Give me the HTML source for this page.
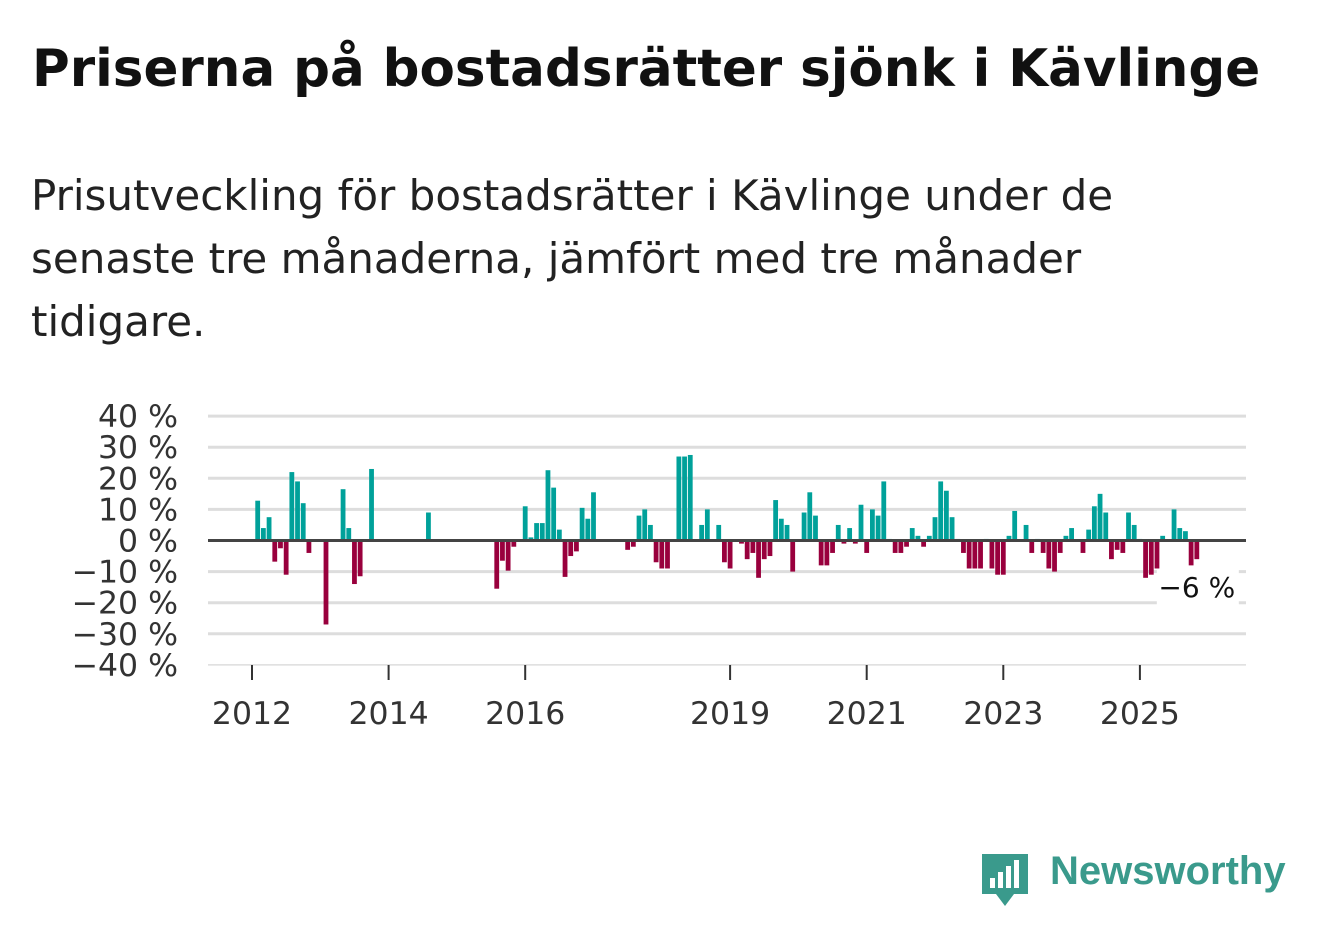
<!DOCTYPE html>
<html><head><meta charset="utf-8"><style>
body{margin:0;width:1322px;height:939px;background:#fff;font-family:"DejaVu Sans","Liberation Sans",sans-serif;overflow:hidden;position:relative}
h1{position:absolute;left:32px;top:39px;margin:0;font-size:51.5px;font-weight:bold;color:#111;white-space:nowrap}
p.sub{position:absolute;left:31px;top:164px;margin:0;font-size:42px;line-height:63px;color:#222;width:1280px;white-space:nowrap}
svg{position:absolute;left:0;top:0}
.logo{position:absolute;left:1050px;top:849px;font-size:40px;color:#3a9a8c;font-weight:bold;font-family:"Liberation Sans",sans-serif}
</style></head><body>
<h1>Priserna på bostadsrätter sjönk i Kävlinge</h1>
<p class="sub">Prisutveckling för bostadsrätter i Kävlinge under de<br>senaste tre månaderna, jämfört med tre månader<br>tidigare.</p>
<svg id="chart" width="1322" height="939"></svg>
<svg width="60" height="70" style="left:978px;top:848px">
<path d="M4 6 h46 v40 h-14 l-9 12 l-9 -12 h-14 z" fill="#3a9a8c"/>
<rect x="12" y="30" width="5" height="10" fill="#fff"/><rect x="20" y="24" width="5" height="16" fill="#fff"/><rect x="28" y="18" width="5" height="22" fill="#fff"/><rect x="36" y="12" width="5" height="28" fill="#fff"/>
</svg>
<div class="logo">Newsworthy</div>
<script>
const months=["2012-02","2012-03","2012-04","2012-05","2012-06","2012-07","2012-08","2012-09","2012-10","2012-11","2013-02","2013-05","2013-06","2013-07","2013-08","2013-10","2014-08","2015-08","2015-09","2015-10","2015-11","2016-01","2016-02","2016-03","2016-04","2016-05","2016-06","2016-07","2016-08","2016-09","2016-10","2016-11","2016-12","2017-01","2017-07","2017-08","2017-09","2017-10","2017-11","2017-12","2018-01","2018-02","2018-04","2018-05","2018-06","2018-08","2018-09","2018-11","2018-12","2019-01","2019-03","2019-04","2019-05","2019-06","2019-07","2019-08","2019-09","2019-10","2019-11","2019-12","2020-02","2020-03","2020-04","2020-05","2020-06","2020-07","2020-08","2020-09","2020-10","2020-11","2020-12","2021-01","2021-02","2021-03","2021-04","2021-05","2021-06","2021-07","2021-08","2021-09","2021-10","2021-11","2021-12","2022-01","2022-02","2022-03","2022-04","2022-05","2022-06","2022-07","2022-08","2022-09","2022-10","2022-11","2022-12","2023-01","2023-02","2023-03","2023-05","2023-06","2023-07","2023-08","2023-09","2023-10","2023-11","2023-12","2024-01","2024-03","2024-04","2024-05","2024-06","2024-07","2024-08","2024-09","2024-10","2024-11","2024-12","2025-01","2025-02","2025-03","2025-04","2025-05","2025-07","2025-08","2025-09","2025-10","2025-11"];
const values=[12.8,4,7.5,-6.8,-2.5,-11,22,19,12,-4,-27,16.5,4,-14,-11.5,23,9,-15.5,-6.5,-9.7,-2,11,1,5.6,5.6,22.6,17,3.5,-11.7,-5,-3.5,10.5,7,15.5,-3,-2,8,10,5,-7,-9,-9,27,27,27.5,5,10,5,-7,-9,-1,-6,-4,-12,-6,-5,13,7,5,-10,9,15.5,8,-8,-8,-4,5,-1,4,-1,11.5,-4,10,8,19,0.5,-4,-4,-2,4,1.5,-2,1.5,7.5,19,16,7.5,0.5,-4,-9,-9,-9,0.5,-9,-11,-11,1.5,9.5,5,-4,0.5,-4,-9,-10,-4,1.5,4,-4,3.5,11,15,9,-6,-3,-4,9,5,0.5,-12,-11,-9,1.5,10,4,3,-8,-6];
const yTicks=[40,30,20,10,0,-10,-20,-30,-40];
const xTicks=[2012,2014,2016,2019,2021,2023,2025];
const lastLabel="−6 %";
const NS="http://www.w3.org/2000/svg",svg=document.getElementById('chart');
const y=v=>540.5-v*3.11;
const x=t=>252+(t-2012)*68.3;
const mx=m=>{const [a,b]=m.split('-').map(Number);return x(a+(b-1)/12);};
function mk(tag,attrs){const e=document.createElementNS(NS,tag);for(const k in attrs)e.setAttribute(k,attrs[k]);svg.appendChild(e);return e;}
yTicks.forEach(t=>{
 const l=mk('line',{x1:208,x2:1246,y1:y(t),y2:y(t),stroke:t===0?'#444':'#ddd','stroke-width':t===0?3:(t===-40?1.5:3)});
 
 
 const tx=mk('text',{x:178,y:y(t)+11,'text-anchor':'end','font-size':31.5,fill:'#333'});
 tx.textContent=(t<0?'−'+(-t):t)+' %';
 
 
});
xTicks.forEach(t=>{
 const l=mk('line',{x1:x(t),x2:x(t),y1:665,y2:680,stroke:'#333','stroke-width':2});
 
 
 const tx=mk('text',{x:x(t),y:724,'text-anchor':'middle','font-size':31.5,fill:'#333'});
 tx.textContent=t;
 
 
});
months.forEach((m,i)=>{
 const v=values[i],cx=mx(m),y0=y(0),y1=y(v);
 const r=mk('rect',{x:cx-2.4,width:4.8,y:Math.min(y0,y1),height:Math.max(1,Math.abs(y1-y0)),fill:v>=0?'#00a19a':'#99003d'});
 
 
});
mk('line',{x1:208,x2:1246,y1:540.5,y2:540.5,stroke:'#444','stroke-width':3});
const lm=months[months.length-1],lv=values[values.length-1];
const bg=mk('rect',{x:mx(lm)-40,y:y(lv)+10,width:82,height:36,fill:'#fff'});


const lt=mk('text',{x:mx(lm),y:y(lv)+38,'text-anchor':'middle','font-size':28,fill:'#111'});
lt.textContent=lastLabel;


</script>
</body></html>
